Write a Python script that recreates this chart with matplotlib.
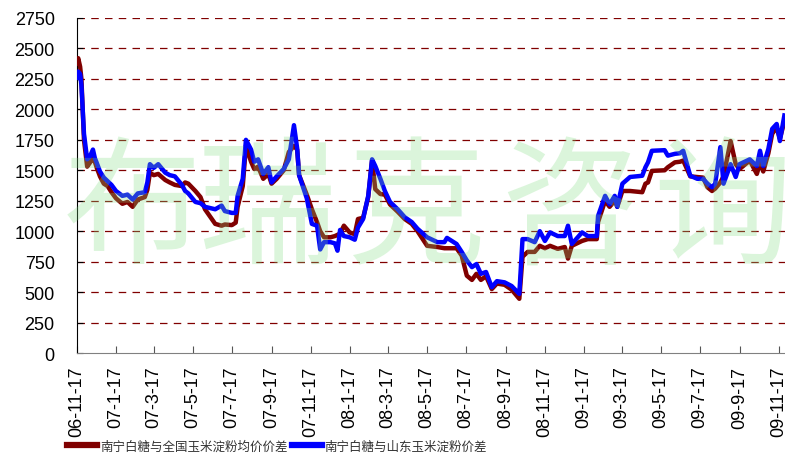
import numpy as np
import pandas as pd
import matplotlib
matplotlib.use("Agg")
import matplotlib.pyplot as plt

plt.rcParams['font.family'] = ['Liberation Sans', 'Noto Sans CJK SC', 'DejaVu Sans']

# data
dates = [
    "2006-11-17", "2006-11-19", "2006-11-22", "2006-11-24", "2006-11-28", "2006-12-03",
    "2006-12-07", "2006-12-12", "2006-12-15", "2006-12-18", "2006-12-23", "2006-12-29",
    "2007-01-04", "2007-01-10", "2007-01-17", "2007-01-27", "2007-02-04", "2007-02-12",
    "2007-02-20", "2007-03-03", "2007-03-07", "2007-03-11", "2007-03-17", "2007-03-24",
    "2007-04-04", "2007-04-11", "2007-04-19", "2007-04-30", "2007-05-05", "2007-05-10",
    "2007-05-21", "2007-05-29", "2007-06-05", "2007-06-13", "2007-06-21", "2007-07-01",
    "2007-07-06", "2007-07-17", "2007-07-23", "2007-07-26", "2007-08-03", "2007-08-08",
    "2007-08-16", "2007-08-21", "2007-08-27", "2007-09-04", "2007-09-12", "2007-09-17",
    "2007-09-25", "2007-10-06", "2007-10-14", "2007-10-22", "2007-10-27", "2007-10-30",
    "2007-11-11", "2007-11-19", "2007-11-27", "2007-12-02", "2007-12-08", "2007-12-18",
    "2007-12-25", "2007-12-29", "2008-01-02", "2008-01-08", "2008-01-17", "2008-01-25",
    "2008-01-30", "2008-02-07", "2008-02-15", "2008-02-21", "2008-02-26", "2008-03-05",
    "2008-03-12", "2008-03-20", "2008-04-01", "2008-04-12", "2008-04-23", "2008-05-02",
    "2008-05-17", "2008-06-02", "2008-06-13", "2008-06-17", "2008-07-02", "2008-07-10",
    "2008-07-18", "2008-07-26", "2008-08-02", "2008-08-09", "2008-08-17", "2008-08-26",
    "2008-09-03", "2008-09-15", "2008-09-26", "2008-10-08", "2008-10-13", "2008-10-21",
    "2008-11-01", "2008-11-09", "2008-11-17", "2008-11-25", "2008-12-07", "2008-12-18",
    "2008-12-23", "2008-12-29", "2009-01-14", "2009-01-23", "2009-02-06", "2009-02-08",
    "2009-02-19", "2009-02-26", "2009-03-06", "2009-03-10", "2009-03-18", "2009-03-30",
    "2009-04-18", "2009-04-23", "2009-04-27", "2009-05-03", "2009-05-23", "2009-05-28",
    "2009-06-08", "2009-06-16", "2009-06-21", "2009-07-02", "2009-07-13", "2009-07-22",
    "2009-07-29", "2009-08-05", "2009-08-10", "2009-08-18", "2009-08-23", "2009-09-03",
    "2009-09-11", "2009-09-17", "2009-10-03", "2009-10-14", "2009-10-19", "2009-10-24",
    "2009-11-01", "2009-11-07", "2009-11-14", "2009-11-19", "2009-11-26",
]

national = [
    2380, 2420, 2350, 2250, 1750, 1530,
    1560, 1600, 1570, 1520, 1450, 1390,
    1370, 1320, 1270, 1225, 1240, 1200,
    1260, 1280, 1340, 1480, 1460, 1470,
    1420, 1400, 1380, 1370, 1400, 1390,
    1330, 1280, 1180, 1120, 1060, 1045,
    1055, 1050, 1070, 1200, 1370, 1700,
    1570, 1510, 1530, 1430, 1470, 1390,
    1430, 1500, 1650, 1700, 1670, 1460,
    1300, 1180, 1075, 1000, 950, 950,
    960, 970, 980, 1045, 990, 975,
    1100, 1110, 1280, 1580, 1345, 1305,
    1300, 1220, 1160, 1100, 1060, 1000,
    880, 870, 860, 860, 860, 800,
    635, 600, 650, 600, 630, 525,
    570, 560, 520, 445, 790, 830,
    830, 880, 860, 880, 855, 870,
    775, 880, 920, 935, 935, 1075,
    1250, 1200, 1250, 1200, 1330, 1330,
    1320, 1390, 1400, 1495, 1500, 1525,
    1565, 1570, 1580, 1450, 1445, 1440,
    1360, 1330, 1350, 1400, 1450, 1740,
    1550, 1510, 1580, 1470, 1560, 1490,
    1640, 1800, 1850, 1760, 1900,
]

shandong = [
    2260, 2310, 2290, 2200, 1800, 1590,
    1610, 1670, 1600, 1560, 1490, 1440,
    1410, 1380, 1330, 1290, 1300, 1260,
    1310, 1320, 1400, 1550, 1520, 1550,
    1480, 1460, 1450, 1380, 1330, 1310,
    1240, 1230, 1200, 1190, 1180, 1210,
    1165, 1150, 1150, 1290, 1430, 1750,
    1670, 1570, 1590, 1470, 1525, 1400,
    1450, 1510, 1590, 1870, 1680, 1460,
    1270, 1060, 1045, 850, 910, 910,
    900, 840, 1010, 960, 950, 930,
    1030, 1100, 1290, 1590, 1535, 1430,
    1330, 1240, 1180, 1115, 1075, 1020,
    950, 910, 910, 945, 895, 830,
    760, 705, 730, 650, 665, 540,
    590, 580, 550, 485, 935, 935,
    910, 1000, 920, 990, 960, 960,
    1045, 895, 990, 960, 960, 1125,
    1290, 1220, 1290, 1200, 1390, 1445,
    1455, 1525, 1565, 1660, 1665, 1620,
    1635, 1640, 1660, 1455, 1430, 1430,
    1390, 1360, 1390, 1690, 1390, 1550,
    1445, 1550, 1590, 1535, 1660, 1535,
    1675, 1840, 1880, 1740, 1950,
]

tick_dates = ["2006-11-17", "2007-01-17", "2007-03-17", "2007-05-17", "2007-07-17",
              "2007-09-17", "2007-11-17", "2008-01-17", "2008-03-17", "2008-05-17",
              "2008-07-17", "2008-09-17", "2008-11-17", "2009-01-17", "2009-03-17",
              "2009-05-17", "2009-07-17", "2009-09-17", "2009-11-17"]
tick_labels = ["06-11-17", "07-1-17", "07-3-17", "07-5-17", "07-7-17", "07-9-17",
               "07-11-17", "08-1-17", "08-3-17", "08-5-17", "08-7-17", "08-9-17",
               "08-11-17", "09-1-17", "09-3-17", "09-5-17", "09-7-17", "09-9-17",
               "09-11-17"]

labels = ["南宁白糖与全国玉米淀粉均价价差", "南宁白糖与山东玉米淀粉价差"]
watermark = "布瑞克咨询"

x = pd.to_datetime(dates)

fig = plt.figure(figsize=(7.85, 4.6), dpi=100)
ax = fig.add_axes([0.098, 0.2304, 0.902, 0.7283])

# watermark, one character at a time so it spreads across the plot
wm_x = [0.168, 0.340, 0.530, 0.725, 0.920]
for ch, px in zip(watermark, wm_x):
    fig.text(px, 0.535, ch, fontsize=100, color="#7fdc7f", alpha=0.28,
             ha="center", va="center", family=["Noto Sans CJK SC"], zorder=0)

for v in range(250, 2751, 250):
    ax.axhline(v, color="#800000", lw=0.9, dashes=(6, 5), zorder=1)

ax.plot(x, national, color="#800000", lw=3.2, label=labels[0], zorder=3,
        solid_joinstyle="round")
ax.plot(x, shandong, color="#0000ff", lw=3.2, label=labels[1], zorder=4,
        solid_joinstyle="round")

ax.set_ylim(0, 2750)
ax.set_yticks(range(0, 2751, 250))
ax.set_xlim(pd.Timestamp("2006-11-17"), pd.Timestamp("2009-11-27"))
ax.set_xticks(pd.to_datetime(tick_dates))
ax.set_xticklabels(tick_labels, rotation=90)

ax.patch.set_alpha(0)
ax.spines["top"].set_visible(False)
ax.spines["right"].set_visible(False)
ax.spines["left"].set_color("#000000")
ax.spines["bottom"].set_color("#808080")
ax.tick_params(axis="y", direction="in", length=4, pad=16, labelsize=13)
ax.tick_params(axis="x", direction="in", length=5, pad=9, labelsize=13,
               color="#555555")

fig.legend(loc="center left", bbox_to_anchor=(0.078, 0.028), ncol=2, frameon=False,
           fontsize=9.0, handlelength=2.4, handletextpad=0.2, columnspacing=0.35,
           borderpad=0, labelcolor="#333333")
for h in fig.legends[0].get_lines():
    h.set_linewidth(4.5)

fig.savefig("out.png", dpi=100)
